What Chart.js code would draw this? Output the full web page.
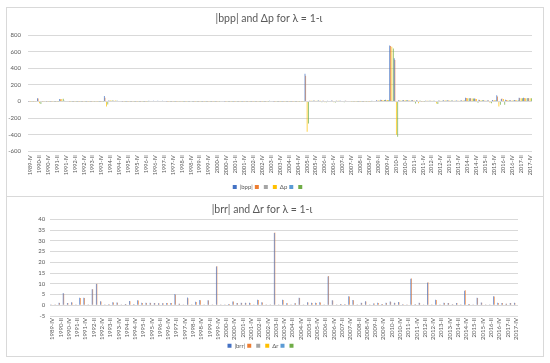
<!DOCTYPE html>
<html>
<head>
<meta charset="utf-8">
<script src="https://cdn.jsdelivr.net/npm/chart.js@4.4.0/dist/chart.umd.min.js"></script>
<style>
  body { margin: 0; background: #fff; width: 550px; height: 363px; overflow: hidden; position: relative; }
  .box { position: absolute; left: 6px; width: 538px; border: 1px solid #d9d9d9; box-sizing: border-box; }
  #box1 { top: 7px; height: 190px; }
  #box2 { top: 196px; height: 161px; }
  canvas { position: absolute; left: 6px; }
  #topChart { top: 7px; }
  #bottomChart { top: 197px; }
</style>
</head>
<body>
<div class="box" id="box1"></div>
<div class="box" id="box2"></div>
<canvas id="topChart" width="538" height="193"></canvas>
<canvas id="bottomChart" width="538" height="163"></canvas>
<script>
// quarters 1989-IV .. 2017-IV
const romans = ["I", "II", "III", "IV"];
const quarters = ["1989-IV"];
for (let y = 1990; y <= 2017; y++) {
  romans.forEach((r) => quarters.push(y + "-" + r));
}

const topTicks = [-600, -400, -200, 0, 200, 400, 600, 800];
const bottomTicks = [-5, 0, 5, 10, 15, 20, 25, 30, 35, 40];

// |bpp| and Δp
const bppBlue = [
  3, 5, 40, 5, 3, 2, 3, 30, 8, 5,
  3, 3, 4, 3, 3, 5, 3, 65, 12, 10,
  8, 3, 3, 3, 2, 3, 3, 8, 8, 8,
  8, 3, 3, 3, 5, 3, 3, 3, 3, 3,
  3, 3, 3, 6, 3, 3, 3, 3, 3, 3,
  3, 3, 3, 3, 8, 3, 3, 3, 3, 3,
  3, 5, 335, 10, 12, 12, 10, 8, 12, 10,
  8, 10, 6, 5, 3, 3, 5, 8, 15, 20,
  20, 675, 520, 15, 18, 15, 18, 15, 5, 10,
  10, 8, 12, 15, 15, 12, 12, 15, 45, 40,
  35, 20, 15, 15, 18, 75, 30, 20, 15, 18,
  45, 45, 42
];
const bppOrange = [
  2, 4, 35, 3, 2, 2, 2, 28, 6, 4,
  2, 2, 3, 2, 2, 4, 2, 45, 10, 8,
  6, 2, 2, 2, 2, 2, 2, 6, 6, 6,
  6, 2, 2, 2, 4, 2, 2, 2, 2, 2,
  2, 2, 2, 5, 2, 2, 2, 2, 2, 2,
  2, 2, 2, 2, 6, 2, 2, 2, 2, 2,
  2, 4, 310, 8, 10, 10, 8, 6, 10, 8,
  6, 8, 5, 4, 2, 2, 4, 6, 12, 18,
  18, 670, 500, 12, 15, 12, 15, 12, 4, 8,
  8, 6, 10, 12, 12, 10, 10, 12, 42, 38,
  32, 18, 12, 12, 15, 60, 35, 18, 12, 15,
  42, 42, 40
];
const dpYellow = [
  2, 3, -20, -3, 2, 2, 2, 30, 5, 3,
  2, 2, 3, 2, 2, 3, 2, -60, 15, 12,
  6, 2, 2, 2, 2, 2, 2, 6, 6, 6,
  6, 2, 2, 2, 3, 2, -5, 2, 2, 2,
  2, 2, 2, 5, 2, 2, 2, 2, 2, 2,
  2, 2, 2, 2, 6, 2, 2, 2, 2, 2,
  2, 3, -365, 8, 10, 10, -8, 6, -10, 8,
  -6, 6, 4, 3, 2, 2, 3, 6, 12, 18,
  18, 660, -400, 12, 15, 12, 12, -20, 4, 8,
  8, -25, 10, 12, 12, 10, 10, 12, 40, 35,
  30, 15, 10, -15, 15, -60, 30, 15, 12, 15,
  40, 40, 38
];
const dpGreen = [
  2, -5, -30, -5, 2, 2, 2, 32, 5, 3,
  2, 2, 3, 2, 2, 3, 2, -35, 12, 10,
  5, 2, 2, 2, 2, 2, 2, 6, 6, 6,
  6, 2, 2, 2, 3, 2, 2, 2, 2, 2,
  2, 2, 2, 5, 2, 2, 2, 2, 2, 2,
  2, 2, 2, 2, 6, 2, 2, 2, 2, 2,
  2, 3, -265, 8, 10, -10, -10, 6, -12, 8,
  -8, 6, 4, 3, 2, 2, 3, 6, 12, 18,
  18, 640, -425, 12, 15, 12, -25, 12, 4, 8,
  8, -30, 10, 12, 12, 10, 10, 12, 40, 35,
  -15, 15, 10, -20, 15, -40, -40, 15, 12, 15,
  40, 40, 38
];

// |brr| and Δr
const brrBlue = [
  0.5, 0.3, 1.2, 5.7, 1.1, 1.4, 0.3, 3.5, 3.5, 0.3,
  7.4, 9.9, 1.9, 0.4, 0.5, 1.4, 1.3, 0.3, 0.6, 2.0,
  0.5, 2.3, 1.2, 1.2, 1.2, 1.0, 0.9, 0.9, 1.0, 1.0,
  5.2, 0.7, 0.4, 3.6, 0.3, 1.6, 2.4, 0.3, 2.3, 0.3,
  18.0, 0.3, 0.3, 0.6, 1.8, 1.0, 1.2, 1.2, 1.2, 0.3,
  2.6, 1.4, 0.4, 0.3, 33.6, 0.3, 2.6, 0.9, 0.3, 0.9,
  3.5, 0.4, 1.4, 1.2, 1.2, 1.4, 0.3, 13.4, 2.3, 0.3,
  0.6, 0.5, 4.2, 2.4, 0.4, 1.2, 1.9, 0.3, 0.8, 1.2,
  0.6, 1.2, 1.7, 1.2, 1.5, 0.5, 0.3, 12.3, 0.5, 1.2,
  0.3, 10.5, 0.4, 2.6, 0.4, 1.2, 1.0, 0.5, 1.0, 0.3,
  6.8, 0.6, 0.3, 3.5, 1.3, 0.3, 0.3, 4.2, 1.2, 1.0,
  0.7, 1.0, 1.2
];
const brrOrange = [
  0.4, 0.3, 1.1, 5.3, 1.0, 1.3, 0.3, 3.4, 3.4, 0.3,
  7.5, 10.0, 1.8, 0.4, 0.5, 1.3, 1.2, 0.3, 0.6, 1.9,
  0.5, 2.2, 1.1, 1.1, 1.1, 1.0, 0.9, 0.9, 1.0, 1.0,
  4.9, 0.7, 0.4, 3.3, 0.3, 1.5, 2.3, 0.3, 2.2, 0.3,
  18.2, 0.3, 0.3, 0.6, 1.7, 1.0, 1.1, 1.1, 1.1, 0.3,
  2.5, 1.3, 0.4, 0.3, 33.8, 0.3, 2.5, 0.9, 0.3, 0.9,
  3.4, 0.4, 1.3, 1.1, 1.1, 1.3, 0.3, 13.6, 2.2, 0.3,
  0.6, 0.5, 4.1, 2.3, 0.4, 1.1, 1.8, 0.3, 0.8, 1.1,
  0.6, 1.1, 1.6, 1.1, 1.4, 0.5, 0.3, 12.5, 0.5, 1.1,
  0.3, 10.7, 0.4, 2.5, 0.4, 1.1, 1.0, 0.5, 1.0, 0.3,
  7.0, 0.6, 0.3, 3.4, 1.2, 0.3, 0.3, 4.1, 1.1, 1.0,
  0.7, 1.0, 1.1
];
const emptySeries = quarters.map(() => null);

const topLabels = ["|bpp|", "", "", "Δp", "", ""];
const bottomLabels = ["|brr|", "", "", "Δr", "", ""];
const palette = ["#4472C4", "#ED7D31", "#A5A5A5", "#FFC000", "#5B9BD5", "#70AD47"];

const fontFamily = "Lato, 'Noto Sans', 'DejaVu Sans', sans-serif";
const textColor = "#595959";

function makeDatasets(labels, seriesList) {
  return seriesList.map((data, i) => ({
    label: labels[i],
    data: data,
    backgroundColor: palette[i],
    borderWidth: 0,
    categoryPercentage: 0.95,
    barPercentage: 1.0,
  }));
}

function buildOptions(cfg) {
  return {
    responsive: false,
    animation: false,
    layout: { padding: { left: 0, right: cfg.padRight, top: 0, bottom: cfg.padBottom } },
    plugins: {
      title: {
        display: true,
        text: cfg.title,
        color: textColor,
        font: { family: fontFamily, size: 10.5, weight: "normal" },
        padding: { top: cfg.titleTop, bottom: cfg.titleBottom },
      },
      legend: {
        position: "bottom",
        labels: {
          color: textColor,
          font: { family: fontFamily, size: 6 },
          boxWidth: 4,
          boxHeight: 4,
          padding: 2,
        },
      },
      tooltip: { enabled: false },
    },
    scales: {
      x: {
        grid: { display: false, drawTicks: false },
        border: { display: false },
        ticks: {
          autoSkip: false,
          maxRotation: 90,
          minRotation: 90,
          padding: cfg.xPad,
          color: textColor,
          font: { family: fontFamily, size: cfg.xFont },
          callback: function (val, idx) {
            return idx % 2 === 0 ? quarters[idx] : "";
          },
        },
        afterFit: (scale) => { scale.height = cfg.xHeight; },
      },
      y: {
        min: cfg.ticks[0],
        max: cfg.ticks[cfg.ticks.length - 1],
        afterBuildTicks: (scale) => { scale.ticks = cfg.ticks.map((v) => ({ value: v })); },
        grid: { color: "#d9d9d9", drawTicks: false, lineWidth: 1 },
        border: { display: false },
        ticks: {
          padding: cfg.yPad,
          color: textColor,
          font: { family: fontFamily, size: cfg.yFont },
        },
        afterFit: (scale) => { scale.width = cfg.yWidth; },
      },
    },
  };
}

new Chart(document.getElementById("topChart"), {
  type: "bar",
  data: {
    labels: quarters,
    datasets: makeDatasets(topLabels, [bppBlue, bppOrange, emptySeries, dpYellow, emptySeries, dpGreen]),
  },
  options: buildOptions({
    title: "|bpp| and Δp for λ = 1-ι",
    ticks: topTicks,
    padRight: 12,
    padBottom: 0,
    titleTop: 5,
    titleBottom: 10.5,
    xHeight: 30.7,
    xPad: 4,
    xFont: 5.5,
    yWidth: 22,
    yPad: 7,
    yFont: 6,
  }),
});

new Chart(document.getElementById("bottomChart"), {
  type: "bar",
  data: {
    labels: quarters,
    datasets: makeDatasets(bottomLabels, [brrBlue, brrOrange, emptySeries, emptySeries, emptySeries, emptySeries]),
  },
  options: buildOptions({
    title: "|brr| and Δr for λ = 1-ι",
    ticks: bottomTicks,
    padRight: 26,
    padBottom: 1.3,
    titleTop: 6.3,
    titleBottom: 3.4,
    xHeight: 24.7,
    xPad: 2,
    xFont: 6,
    yWidth: 44.3,
    yPad: 5,
    yFont: 6,
  }),
});
</script>
</body>
</html>
